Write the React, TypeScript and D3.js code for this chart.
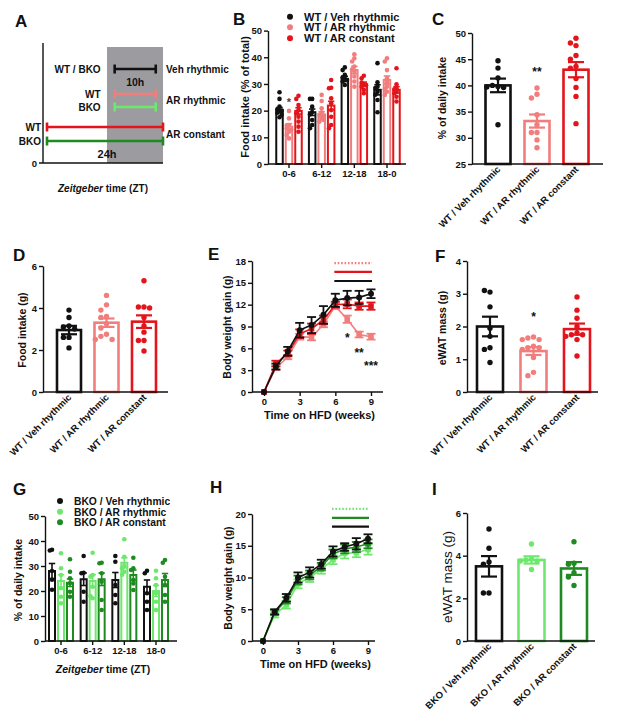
import { useEffect, useRef } from 'react';
import * as d3 from 'd3';

const FONT = "'Liberation Sans', Arial, Helvetica, sans-serif";
const INK = '#111111';
const PINK = '#f27d7d';
const RED = '#e3141b';
const LGREEN = '#6de86d';
const DGREEN = '#1f8a22';
const GRAY = '#9c9ca0';

// ---- A: feeding schedules (ZT hours, schematic level) ----
const schedGenotype = ['WT / BKO', 'WT', 'BKO', 'WT', 'BKO'];
const schedStart = [14, 14, 14, 0, 0];
const schedEnd = [22.5, 22.5, 22.5, 24, 24];
const schedLevel = [7.83, 5.75, 4.67, 3.0, 1.83];
const schedNames = ['Veh rhythmic', 'AR rhythmic', 'AR constant'];
const schedNameLevel = [7.83, 5.25, 2.42];
const darkPhase = [12, 24];

// ---- B: WT food intake per ZT bin ----
const zeitBins = ['0-6', '6-12', '12-18', '18-0'];
const wtGroups = ['WT / Veh rhythmic', 'WT / AR rhythmic', 'WT / AR constant'];
const bMean = [
  [20.2, 19.4, 31.9, 27.8],
  [14.0, 18.6, 35.2, 31.5],
  [19.9, 21.9, 29.9, 27.8],
];
const bSem = [
  [1.0, 1.2, 1.0, 1.9],
  [1.1, 1.0, 1.4, 1.5],
  [1.2, 1.6, 0.8, 1.2],
];
const bPoints = [
  [[26.9, 24.4, 21.5, 20.5, 20, 19.2, 18.5, 17.5], [24.4, 24.4, 21.5, 19.5, 18.6, 16.5, 14.6, 13.4], [36.2, 35.2, 33.4, 32.1, 30.9, 29.6, 31.5, 32.5], [37.8, 30.6, 29, 27.1, 24, 19.4, 28.5, 26]],
  [[19.9, 17.1, 14.6, 13.4, 12.1, 10.9, 9.6, 14.5, 12.8], [25.9, 23.6, 20.9, 19.4, 18.4, 17.1, 15.9, 18, 16.5], [41.1, 39.6, 38.4, 36.5, 34.6, 32.8, 30.9, 29, 35.5], [39.6, 38.4, 35.2, 32.1, 29, 27.1, 25.9, 30.5, 28]],
  [[25.6, 24.4, 22.1, 20.2, 19, 17.7, 15.9, 14, 12.1], [31.5, 28.6, 28.4, 24.6, 22.8, 20.2, 17.7, 14.6, 13.4], [33.1, 32.1, 29.9, 29, 27.8, 26.5, 30.5, 29.5], [35.9, 29.9, 28.4, 27.1, 25.2, 23.4, 28, 26.5]],
];

// ---- C: % of daily intake ----
const cMean = [40.0, 33.2, 43.0];
const cSem = [1.3, 1.25, 1.45];
const cPoints = [
  [44.7, 43.3, 41.4, 39.8, 40.0, 39.6, 39.7, 32.5],
  [39.5, 38.3, 37.6, 34.4, 32.5, 31.0, 31.0, 29.6, 28.1],
  [49.0, 47.6, 48.1, 45.7, 45.0, 43.6, 43.3, 41.3, 39.6, 37.9, 32.7],
];

// ---- D: food intake (g) ----
const dMean = [2.95, 3.3, 3.35];
const dSem = [0.2, 0.2, 0.3];
const dPoints = [
  [3.9, 3.55, 3.15, 3.1, 3.0, 2.6, 2.6, 2.1],
  [4.6, 4.15, 3.9, 3.6, 3.55, 3.25, 3.05, 2.75, 2.65, 2.5, 2.5],
  [5.3, 4.05, 4.05, 4.0, 3.55, 3.15, 2.85, 2.45, 2.45, 1.95],
];

// ---- E: WT body weight gain ----
const weeks = [0, 1, 2, 3, 4, 5, 6, 7, 8, 9];
const eVeh = [0, 3.5, 5.6, 8.5, 9.2, 10.6, 12.6, 12.9, 13.0, 13.5];
const eVehErr = [0, 0.4, 0.6, 1.0, 1.1, 1.2, 0.9, 1.0, 0.9, 0.6];
const eArRhy = [0, 3.3, 4.8, 7.6, 7.5, 9.3, 11.8, 10.0, 7.9, 7.6];
const eArRhyErr = [0, 0.3, 0.3, 0.4, 0.4, 0.4, 0.4, 0.5, 0.4, 0.4];
const eArCon = [0, 3.9, 5.3, 8.0, 8.7, 9.9, 12.0, 12.1, 11.8, 11.8];
const eArConErr = [0, 0.4, 0.4, 0.6, 0.7, 0.6, 0.4, 0.6, 0.5, 0.5];
const eSigLevel = [17.7, 16.5, 15.25];
const eStars = ['*', '**', '***'];
const eStarWeek = [7, 8, 9];
const eStarVal = [7.8, 5.8, 4.0];

// ---- F: WT eWAT mass ----
const fMean = [2.0, 1.25, 1.92];
const fSem = [0.3, 0.12, 0.17];
const fPoints = [
  [3.05, 3.1, 2.6, 1.95, 1.7, 1.35, 1.3, 0.9],
  [1.68, 1.65, 1.6, 1.6, 1.4, 1.35, 1.35, 1.3, 1.05, 0.6, 0.5],
  [2.9, 2.5, 2.25, 2.0, 1.8, 1.75, 1.75, 1.7, 1.6, 1.1],
];

// ---- G: BKO % of daily intake per ZT bin ----
const bkoGroups = ['BKO / Veh rhythmic', 'BKO / AR rhythmic', 'BKO / AR constant'];
const gMean = [
  [28.0, 24.7, 24.4, 21.7],
  [24.0, 24.0, 31.3, 20.0],
  [23.3, 24.7, 26.4, 24.4],
];
const gSem = [
  [3.0, 2.5, 3.0, 2.7],
  [2.5, 2.5, 2.0, 2.2],
  [1.5, 2.5, 2.0, 2.6],
];
const gPoints = [
  [[36.5, 36.2, 28, 24.5, 20.5], [34, 27.3, 27.1, 19.7, 15.7], [34, 31.7, 22.4, 18.4, 15.1], [28.1, 27.1, 19.1, 15.7, 12.4]],
  [[35.1, 29.1, 26.4, 21.1, 17.7, 15.1], [35.3, 26.4, 25.7, 21.7, 17.1, 18], [40.7, 33.7, 30, 29.1, 27.7, 26.5], [28.1, 25.1, 22.4, 19.1, 15.7, 12.4]],
  [[32.7, 27.7, 25.1, 23.1, 19.7, 17.7], [31.3, 31.1, 27.1, 23.7, 16.4, 12.4], [33.3, 29.1, 28.4, 24.4, 20.4, 23], [32.4, 31.3, 25.7, 22.4, 18.4, 15.7]],
];

// ---- H: BKO body weight gain ----
const hVeh = [0, 4.6, 6.8, 10.0, 10.8, 12.1, 14.1, 14.8, 15.3, 16.1];
const hVehErr = [0, 0.4, 0.6, 0.8, 0.8, 0.7, 0.8, 0.6, 0.9, 0.7];
const hArRhy = [0, 4.1, 5.7, 9.0, 10.0, 11.3, 12.8, 13.8, 13.9, 14.4];
const hArRhyErr = [0, 0.4, 0.6, 0.7, 0.7, 0.7, 0.7, 0.8, 0.7, 0.8];
const hArCon = [0, 4.5, 6.4, 9.6, 10.4, 11.7, 13.7, 14.5, 14.8, 15.3];
const hArConErr = [0, 0.4, 0.5, 0.7, 0.7, 0.6, 0.7, 0.7, 0.8, 0.7];
const hSigLevel = [20.8, 19.4, 18.0];

// ---- I: BKO eWAT mass ----
const iMean = [3.5, 3.8, 3.4];
const iSem = [0.48, 0.17, 0.3];
const iPoints = [
  [5.25, 4.35, 3.7, 3.6, 2.25, 2.25],
  [4.55, 3.85, 3.8, 3.75, 3.75, 3.35],
  [4.65, 3.65, 3.6, 3.2, 3.0, 2.6],
];

const wtColors = [INK, PINK, RED];
const bkoColors = [INK, LGREEN, DGREEN];

function label(g, x, y, s, size = 10, anchor = 'start', weight: any = 'bold') {
  return g.append('text').attr('x', x).attr('y', y)
    .attr('font-family', FONT).attr('font-size', size).attr('font-weight', weight)
    .attr('text-anchor', anchor).attr('fill', INK).text(s);
}

function yTitle(g, x, y, s, size = 10.5, weight: any = 'bold') {
  g.append('text').attr('transform', `translate(${x},${y}) rotate(-90)`)
    .attr('text-anchor', 'middle').attr('dominant-baseline', 'central')
    .attr('font-family', FONT).attr('font-size', size).attr('font-weight', weight)
    .attr('fill', INK).text(s);
}

function star(g, cx, cy, s, size = 12, fill = INK) {
  label(g, cx, cy + size * 0.6, s, size, 'middle').attr('fill', fill);
}

function yAxis(g, y, x, ticks) {
  const a = g.append('g').attr('transform', `translate(${x},0)`)
    .call(d3.axisLeft(y).tickValues(ticks).tickFormat(d3.format('d'))
      .tickSize(4).tickSizeOuter(0).tickPadding(2));
  a.select('.domain').attr('stroke', INK).attr('stroke-width', 1.4);
  a.selectAll('.tick line').attr('stroke', INK).attr('stroke-width', 1.4);
  a.selectAll('text').attr('font-family', FONT).attr('font-size', 9.5)
    .attr('font-weight', 'bold').attr('fill', INK);
}

function hLine(g, x0, x1, y) {
  g.append('line').attr('x1', x0).attr('x2', x1).attr('y1', y).attr('y2', y)
    .attr('stroke', INK).attr('stroke-width', 1.4);
}

function panelLetter(g, x, y, s) {
  label(g, x, y, s, 17, 'start');
}

// deterministic beeswarm offsets
function swarm(vals, ys, sep, step, maxOff) {
  const placed: number[][] = [];
  return vals.map((v) => {
    const py = ys(v);
    let best = 0;
    let bestD = -1;
    for (let k = 0; k < 40; k++) {
      const off = k === 0 ? 0 : (k % 2 ? -1 : 1) * Math.ceil(k / 2) * step;
      if (Math.abs(off) > maxOff) break;
      const d = placed.length ? d3.min(placed, (p) => Math.hypot(p[0] - off, p[1] - py)) : Infinity;
      if (d >= sep) { best = off; bestD = d; break; }
      if (d > bestD) { bestD = d; best = off; }
    }
    placed.push([best, py]);
    return best;
  });
}

function errBar(g, cx, y, m, e, half, color, width = 2) {
  g.append('line').attr('x1', cx).attr('x2', cx).attr('y1', y(m - e)).attr('y2', y(m + e))
    .attr('stroke', color).attr('stroke-width', width);
  [m - e, m + e].forEach((v) => {
    g.append('line').attr('x1', cx - half).attr('x2', cx + half).attr('y1', y(v)).attr('y2', y(v))
      .attr('stroke', color).attr('stroke-width', width);
  });
}

function barPanel(svg, o) {
  const g = svg.append('g');
  const y = d3.scaleLinear().domain(o.domain).range([o.bottom, o.top]);
  const x = d3.scalePoint().domain(o.names).range(o.centers);
  o.names.forEach((n, i) => {
    const cx = x(n);
    const c = o.colors[i];
    g.append('rect').attr('x', cx - o.bw / 2).attr('y', y(o.mean[i]))
      .attr('width', o.bw).attr('height', o.bottom - y(o.mean[i]))
      .attr('fill', 'white').attr('stroke', c).attr('stroke-width', 2.6);
    const offs = swarm(o.pts[i], y, 5.4, 5.6, o.bw / 2 + 2);
    g.selectAll(null).data(o.pts[i]).join('circle')
      .attr('cx', (d, j) => cx + offs[j]).attr('cy', (d) => y(d)).attr('r', 2.7).attr('fill', c);
    errBar(g, cx, y, o.mean[i], o.sem[i], 8, c, 2.2);
    g.append('text').attr('transform', `translate(${cx + 3},${o.bottom + 6}) rotate(-45)`)
      .attr('text-anchor', 'end').attr('font-family', FONT).attr('font-size', 9.5)
      .attr('font-weight', 'bold').attr('fill', INK).text(n);
  });
  yAxis(g, y, o.ax, o.ticks);
  hLine(g, o.ax, o.axEnd, o.bottom);
  yTitle(g, o.ylx, o.yly, o.ylabel, o.ylSize || 10.5, o.ylWeight || 'bold');
  return { g, x, y };
}

function groupedPanel(svg, o) {
  const g = svg.append('g');
  const y = d3.scaleLinear().domain(o.domain).range([o.bottom, o.top]);
  const xb = d3.scalePoint().domain(o.bins).range(o.binRange);
  const xi = d3.scalePoint().domain(o.groups).range([-o.step, o.step]);
  o.groups.forEach((grp, i) => {
    const c = o.colors[i];
    o.bins.forEach((b, k) => {
      const cx = xb(b) + xi(grp);
      const m = o.mean[i][k];
      g.append('rect').attr('x', cx - o.bw / 2).attr('y', y(m)).attr('width', o.bw)
        .attr('height', o.bottom - y(m)).attr('fill', 'white').attr('stroke', c).attr('stroke-width', 2);
      const offs = swarm(o.pts[i][k], y, 3.4, 2.2, 2.4);
      g.selectAll(null).data(o.pts[i][k]).join('circle')
        .attr('cx', (d, j) => cx + offs[j]).attr('cy', (d) => y(d)).attr('r', 2.3).attr('fill', c);
      errBar(g, cx, y, m, o.sem[i][k], 3.2, c, 1.6);
    });
  });
  yAxis(g, y, o.ax, o.ticks);
  hLine(g, o.ax, o.axEnd, o.bottom);
  o.bins.forEach((b) => {
    g.append('line').attr('x1', xb(b)).attr('x2', xb(b)).attr('y1', o.bottom).attr('y2', o.bottom + 4)
      .attr('stroke', INK).attr('stroke-width', 1.4);
    label(g, xb(b), o.bottom + 12.5, b, 9.5, 'middle');
  });
  // legend
  o.groups.forEach((grp, i) => {
    const ly = o.legY[i];
    g.append('circle').attr('cx', o.legX).attr('cy', ly).attr('r', 3).attr('fill', o.colors[i]);
    label(g, o.legX + 14, ly + 4, grp, o.legSize, 'start');
  });
  return { g, xb, xi, y };
}

function marker(g, shape, cx, cy, color) {
  if (shape === 'circle') {
    g.append('circle').attr('cx', cx).attr('cy', cy).attr('r', 3).attr('fill', color);
  } else {
    g.append('rect').attr('x', cx - 2.8).attr('y', cy - 2.8).attr('width', 5.6).attr('height', 5.6).attr('fill', color);
  }
}

function linePanel(svg, o) {
  const g = svg.append('g');
  const y = d3.scaleLinear().domain(o.domain).range([o.bottom, o.top]);
  const x = d3.scaleLinear().domain([0, 9]).range(o.xRange);
  const line = d3.line().x((d) => x(d[0])).y((d) => y(d[1]));
  o.series.forEach((s, i) => {
    const c = o.colors[i];
    g.append('path').attr('d', line(weeks.map((w, k) => [w, s[k]])))
      .attr('fill', 'none').attr('stroke', c).attr('stroke-width', 1.6);
    weeks.forEach((w, k) => {
      if (o.errs[i][k] > 0) errBar(g, x(w), y, s[k], o.errs[i][k], 4.5, c, 1.8);
      marker(g, o.shapes[i], x(w), y(s[k]), c);
    });
  });
  // significance bars (weeks 6-9)
  o.sigLevel.forEach((lv, i) => {
    g.append('line').attr('x1', x(6) - 1).attr('x2', x(9) + 1).attr('y1', y(lv)).attr('y2', y(lv))
      .attr('stroke', o.sigColors[i]).attr('stroke-width', 2.2)
      .attr('stroke-dasharray', i === 0 ? '1.6,1.8' : null);
  });
  yAxis(g, y, o.ax, o.ticks);
  hLine(g, o.ax, o.axEnd, o.bottom);
  const xa = g.append('g').attr('transform', `translate(0,${o.bottom})`)
    .call(d3.axisBottom(x).tickValues([0, 3, 6, 9]).tickFormat(d3.format('d')).tickSize(4).tickPadding(2));
  xa.select('.domain').remove();
  xa.selectAll('.tick line').attr('stroke', INK).attr('stroke-width', 1.4);
  xa.selectAll('text').attr('font-family', FONT).attr('font-size', 9.5)
    .attr('font-weight', 'bold').attr('fill', INK);
  label(g, (o.ax + o.axEnd) / 2 + 2, o.bottom + 27, 'Time on HFD (weeks)', 11, 'middle');
  yTitle(g, o.ylx, o.yly, 'Body weight gain (g)', 10.5);
  return { g, x, y };
}

function drawA(svg) {
  const g = svg.append('g');
  const xA = d3.scaleLinear().domain([0, 24]).range([47, 163]);
  const yA = d3.scaleLinear().domain([0, 10]).range([163, 43]);
  g.append('rect').attr('x', xA(darkPhase[0]) + 2).attr('y', 47)
    .attr('width', xA(darkPhase[1]) - xA(darkPhase[0]) - 2).attr('height', 163 - 47).attr('fill', GRAY);
  g.append('line').attr('x1', 43).attr('x2', 43).attr('y1', yA(10)).attr('y2', yA(0))
    .attr('stroke', INK).attr('stroke-width', 1.4);
  hLine(g, 39, 163, yA(0));
  label(g, 37, yA(0) + 3.5, '0', 9.5, 'end');
  const colors = [INK, PINK, LGREEN, RED, DGREEN];
  schedStart.forEach((s, i) => {
    const yy = yA(schedLevel[i]);
    const x0 = xA(s);
    const x1 = xA(schedEnd[i]);
    g.append('line').attr('x1', x0).attr('x2', x1).attr('y1', yy).attr('y2', yy)
      .attr('stroke', colors[i]).attr('stroke-width', 2.6);
    [x0, x1].forEach((xx) => {
      g.append('line').attr('x1', xx).attr('x2', xx).attr('y1', yy - 4.5).attr('y2', yy + 4.5)
        .attr('stroke', colors[i]).attr('stroke-width', 2.6);
    });
    label(g, s > 0 ? x0 - 14 : x0 - 6, yy + 3.6, schedGenotype[i], 10, 'end');
  });
  schedNames.forEach((n, i) => label(g, 166, yA(schedNameLevel[i]) + 3.6, n, 10, 'start'));
  label(g, (xA(schedStart[0]) + xA(schedEnd[0])) / 2, 86, '10h', 10.5, 'middle');
  label(g, 107, 158, '24h', 11, 'middle');
  const t = label(g, 103, 192, '', 10, 'middle');
  t.append('tspan').attr('font-style', 'italic').text('Zeitgeber');
  t.append('tspan').text(' time (ZT)');
}

function draw(svgEl) {
  const svg = d3.select(svgEl);
  svg.selectAll('*').remove();
  svg.append('rect').attr('width', 617).attr('height', 724).attr('fill', 'white');

  // A
  drawA(svg);
  panelLetter(svg, 15, 27, 'A');

  // B
  const B = groupedPanel(svg, {
    ax: 268, axEnd: 406, top: 30.6, bottom: 164, domain: [0, 50], ticks: [0, 10, 20, 30, 40, 50],
    bins: zeitBins, binRange: [289, 387], groups: wtGroups, step: 9.5, bw: 6.5,
    colors: wtColors, mean: bMean, sem: bSem, pts: bPoints,
    legX: 290, legY: [16.7, 27.3, 38.3], legSize: 11,
  });
  yTitle(svg, 245, 97, 'Food intake (% of total)', 11);
  star(svg, B.xb(zeitBins[0]) + B.xi(wtGroups[1]), B.y(24.4), '*', 11, '#444');
  panelLetter(svg, 233, 25, 'B');

  // C
  const C = barPanel(svg, {
    ax: 472, axEnd: 603, top: 33, bottom: 164, domain: [25, 50], ticks: [25, 30, 35, 40, 45, 50],
    names: wtGroups, centers: [498, 576], bw: 25, colors: wtColors,
    mean: cMean, sem: cSem, pts: cPoints, ylabel: '% of daily intake', ylx: 441.5, yly: 98,
  });
  star(svg, C.x(wtGroups[1]), C.y(43.1), '**', 12);
  panelLetter(svg, 432, 25, 'C');

  // D
  barPanel(svg, {
    ax: 43, axEnd: 168, top: 266, bottom: 392, domain: [0, 6], ticks: [0, 2, 4, 6],
    names: wtGroups, centers: [69, 144], bw: 24, colors: wtColors,
    mean: dMean, sem: dSem, pts: dPoints, ylabel: 'Food intake (g)', ylx: 21.5, yly: 330,
  });
  panelLetter(svg, 13, 261, 'D');

  // E
  const E = linePanel(svg, {
    ax: 252, axEnd: 383, top: 261, bottom: 392, domain: [0, 18], ticks: [0, 3, 6, 9, 12, 15, 18],
    xRange: [264, 371], series: [eArRhy, eArCon, eVeh], errs: [eArRhyErr, eArConErr, eVehErr],
    colors: [PINK, RED, INK], shapes: ['square', 'square', 'circle'],
    sigLevel: eSigLevel, sigColors: [PINK, RED, INK], ylx: 227, yly: 327,
  });
  eStars.forEach((s, i) => star(svg, E.x(eStarWeek[i]), E.y(eStarVal[i]), s, 12));
  panelLetter(svg, 208, 260, 'E');

  // F
  const F = barPanel(svg, {
    ax: 467, axEnd: 598, top: 261, bottom: 392, domain: [0, 4], ticks: [0, 1, 2, 3, 4],
    names: wtGroups, centers: [490, 577], bw: 26, colors: wtColors,
    mean: fMean, sem: fSem, pts: fPoints, ylabel: 'eWAT mass (g)', ylx: 442, yly: 328,
  });
  star(svg, F.x(wtGroups[1]), F.y(2.4), '*', 12);
  panelLetter(svg, 435, 262, 'F');

  // G
  groupedPanel(svg, {
    ax: 45, axEnd: 177, top: 516, bottom: 641, domain: [0, 50], ticks: [0, 10, 20, 30, 40, 50],
    bins: zeitBins, binRange: [61, 156], groups: bkoGroups, step: 9, bw: 6,
    colors: bkoColors, mean: gMean, sem: gSem, pts: gPoints,
    legX: 60, legY: [501, 511.7, 522.3], legSize: 10.3,
  });
  yTitle(svg, 18, 580, '% of daily intake', 10.5);
  const gt = label(svg, 103, 673, '', 10.5, 'middle');
  gt.append('tspan').attr('font-style', 'italic').text('Zeitgeber');
  gt.append('tspan').text(' time (ZT)');
  panelLetter(svg, 13, 495, 'G');

  // H
  linePanel(svg, {
    ax: 252, axEnd: 375, top: 514, bottom: 641, domain: [0, 20], ticks: [0, 5, 10, 15, 20],
    xRange: [263, 368], series: [hArRhy, hArCon, hVeh], errs: [hArRhyErr, hArConErr, hVehErr],
    colors: [LGREEN, DGREEN, INK], shapes: ['square', 'square', 'circle'],
    sigLevel: hSigLevel, sigColors: [LGREEN, DGREEN, INK], ylx: 227.5, yly: 578,
  });
  panelLetter(svg, 210, 493, 'H');

  // I
  barPanel(svg, {
    ax: 467, axEnd: 595, top: 513, bottom: 641, domain: [0, 6], ticks: [0, 2, 4, 6],
    names: bkoGroups, centers: [489, 574], bw: 26, colors: bkoColors,
    mean: iMean, sem: iSem, pts: iPoints, ylabel: 'eWAT mass (g)', ylx: 447, yly: 577,
    ylSize: 13.5, ylWeight: 'normal',
  });
  panelLetter(svg, 432, 495, 'I');
}

const App = () => {
  const ref = useRef(null);
  useEffect(() => {
    draw(ref.current);
  }, []);
  return (
    <svg ref={ref} width={617} height={724} style={{ position: 'absolute', left: 0, top: 0 }} />
  );
};

export default App;
